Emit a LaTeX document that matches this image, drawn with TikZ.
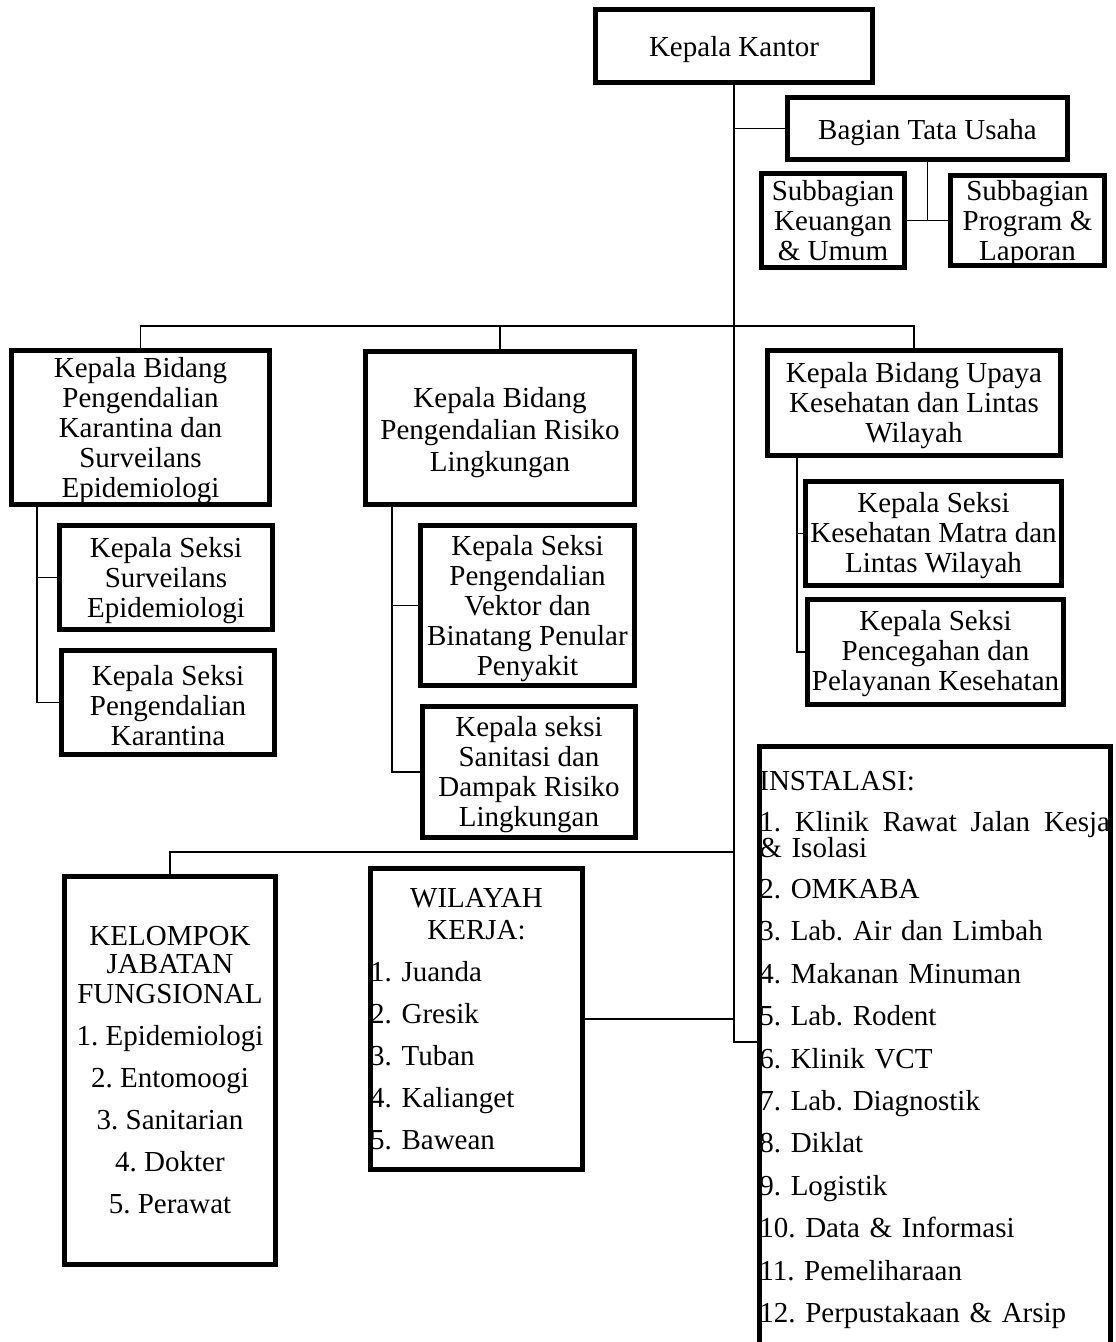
\documentclass[tikz,border=0pt]{standalone}
\usepackage{fontspec}
\setmainfont{Liberation Serif}
\frenchspacing
% \bx[text options]{x1}{y1}{x2}{y2}{name}{text}
\newcommand\bx[7][]{%
  \pgfmathsetmacro\bxw{(#4-#2-4.5)*0.75}%
  \pgfmathsetmacro\bxh{(#5-#3-4.5)*0.75}%
  \node[bx,minimum width=\bxw pt,minimum height=\bxh pt] (#6) at ({(#2+#4)/2},{(#3+#5)/2}) {};
  \node[bxtext,#1] (#6t) at (#6.center) {#7};}
\begin{document}
\begin{tikzpicture}[x=0.75pt,y=-0.75pt,
  bx/.style={draw=black,line width=3.4pt,inner sep=0pt},
  bxtext/.style={inner sep=0pt,align=center,yshift=-2.25pt,
    font=\fontsize{21.75pt}{22.5pt}\selectfont},
  cn/.style={draw=black,line width=1.4pt}]
\fill[white] (0,0) rectangle (1115,1342);
\useasboundingbox (0,0) rectangle (1115,1342);
% boxes
\bx[yshift=-0.75pt]{593}{7}{875}{85}{kantor}{Kepala Kantor}
\bx[yshift=-0.75pt]{785}{95}{1070}{162}{btu}{Bagian Tata Usaha}
\bx[yshift=2.25pt]{759}{171}{907}{270}{sku}{Subbagian\\Keuangan\\\& Umum}
\bx{948}{173}{1107}{268}{spl}{Subbagian\\Program \&\\Laporan}
\bx{9}{348}{272}{507}{kb1}{Kepala Bidang\\Pengendalian\\Karantina dan\\Surveilans\\Epidemiologi}
\bx[font=\fontsize{21.75pt}{24pt}\selectfont,yshift=-1.5pt]{363}{349}{637}{507}{kb2}{Kepala Bidang\\Pengendalian Risiko\\Lingkungan}
\bx{765}{348}{1063}{458}{kb3}{Kepala Bidang Upaya\\Kesehatan dan Lintas\\Wilayah}
\bx{57}{523}{275}{632}{ks1}{Kepala Seksi\\Surveilans\\Epidemiologi}
\bx{59}{648}{277}{757}{ks2}{Kepala Seksi\\Pengendalian\\Karantina}
\bx{418}{523}{637}{688}{ks3}{Kepala Seksi\\Pengendalian\\Vektor dan\\Binatang Penular\\Penyakit}
\bx{420}{704}{638}{840}{ks4}{Kepala seksi\\Sanitasi dan\\Dampak Risiko\\Lingkungan}
\bx[yshift=0.75pt]{803}{479}{1064}{588}{ks5}{Kepala Seksi\\Kesehatan Matra dan\\Lintas Wilayah}
\bx[yshift=0.75pt]{805}{597}{1066}{707}{ks6}{Kepala Seksi\\Pencegahan dan\\Pelayanan Kesehatan}
\bx[yshift=2.25pt]{62}{874}{278}{1267}{kjf}{KELOMPOK\\[-1.5pt]JABATAN\\FUNGSIONAL\\[9pt]1. Epidemiologi\\[9pt]2. Entomoogi\\[9pt]3. Sanitarian\\[9pt]4. Dokter\\[9pt]5. Perawat}
\bx[yshift=2.25pt,align=left,text width=159.5pt]{368}{866}{585}{1172}{wk}{\makebox[159.5pt]{WILAYAH}\\[1.5pt]\makebox[159.5pt]{KERJA:}\\[9pt]1. Juanda\\[9pt]2. Gresik\\[9pt]3. Tuban\\[9pt]4. Kalianget\\[9pt]5. Bawean}
\bx[align=left,text width=263.5pt]{757}{744}{1113}{1350}{inst}{INSTALASI:\\[8pt]\makebox[263pt][l]{1.\hfill Klinik\hfill Rawat\hfill Jalan\hfill Kesja}\\[-2.5pt]\& Isolasi\\[8pt]2. OMKABA\\[9.3pt]3. Lab. Air dan Limbah\\[9.3pt]4. Makanan Minuman\\[9.3pt]5. Lab. Rodent\\[9.3pt]6. Klinik VCT\\[9.3pt]7. Lab. Diagnostik\\[9.3pt]8. Diklat\\[9.3pt]9. Logistik\\[9.3pt]10. Data \& Informasi\\[9.3pt]11. Pemeliharaan\\[9.3pt]12. Perpustakaan \& Arsip}
% connector helpers
\coordinate (jend) at (734,1042);
\coordinate (bus) at (0,326);
\coordinate (bus2) at (0,852);
\coordinate (v1) at (37,0);
\coordinate (v2) at (392,0);
\coordinate (v3) at (797,0);
% connectors
\draw[cn] (kantor.south) -- (jend) -- (jend -| inst.west);
\draw[cn] (kantor.south |- btu.west) -- (btu.west);
\draw[cn] (btu.south) -- (btu.south |- sku.east);
\draw[cn] (sku.east) -- (spl.west);
\draw[cn] (kb1.north) |- (bus -| kb3.north) -- (kb3.north);
\draw[cn] (kb2.north) -- (kb2.north |- bus);
\draw[cn] (kb1.south -| v1) |- (ks2.west);
\draw[cn] (ks1.west -| v1) -- (ks1.west);
\draw[cn] (kb2.south -| v2) |- (ks4.west);
\draw[cn] (ks3.west -| v2) -- (ks3.west);
\draw[cn] (kb3.south -| v3) |- (ks6.west);
\draw[cn] (ks5.west -| v3) -- (ks5.west);
\draw[cn] (kjf.north) |- (bus2 -| jend);
\draw[cn] (wk.east) -- (wk.east -| jend);
\end{tikzpicture}
\end{document}
